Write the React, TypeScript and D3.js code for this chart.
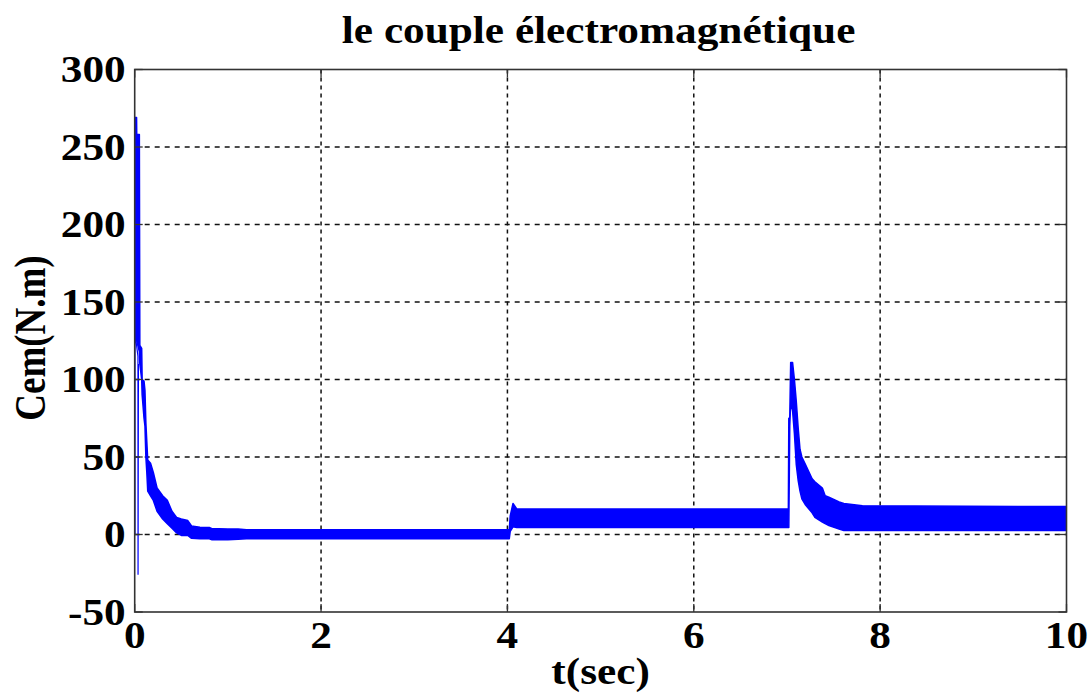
import React from "react";
import * as d3 from "d3";

const title = "le couple électromagnétique";
const xLabel = "t(sec)";
const yLabel = "Cem(N.m)";
const xTicks = [0, 2, 4, 6, 8, 10];
const yTicks = [-50, 0, 50, 100, 150, 200, 250, 300];

// envelope of the fast-oscillating torque (time, upper, lower)
const time = [0.005, 0.02, 0.022, 0.05, 0.055, 0.075, 0.08, 0.1, 0.11, 0.12,
  0.13, 0.14, 0.17, 0.2, 0.24, 0.3, 0.35, 0.4, 0.45, 0.5,
  0.57, 0.61, 0.7, 0.8, 0.83, 0.9, 1.0, 1.11, 1.2, 4.02,
  4.03, 4.06, 4.1, 7.015, 7.02, 7.03, 7.04, 7.06, 7.08, 7.1,
  7.12, 7.14, 7.16, 7.2, 7.27, 7.3, 7.38, 7.41, 7.45, 7.56,
  7.61, 7.81, 10];
const upper = [269, 269, 258, 258, 122, 120, 100, 99, 93, 72,
  60, 48, 46, 40, 30, 25, 22, 15, 11, 10,
  9, 5.5, 4.7, 4.5, 3.7, 3.7, 3.5, 3.5, 3, 3,
  12, 20, 16.5, 16.5, 75, 75, 111, 111, 100, 86,
  69, 55, 50, 45, 36, 34, 30, 25, 24, 21,
  20, 18.5, 18];
const lower = [130, 125, 125, 118, 110, 100, 90, 75, 70, 50,
  40, 28, 25, 22, 15, 10, 7, 4, 1, -0.6,
  -0.6, -2.5, -2.8, -2.8, -3.4, -3.4, -3.4, -3, -2.7, -2.7,
  2, 5, 4.5, 4.5, 4.5, 70, 85, 80, 65, 45,
  35, 28, 23, 19, 14, 11, 8, 7, 5.8, 3.5,
  2.6, 2.6, 2.6];

// thin transient excursions at start-up
const spikeTime = [0.003, 0.003, 0.035, 0.036, 0.04];
const spikeValue = [0, 130, 115, -26, 110];

const W = 1092, H = 697;
const left = 134.7, right = 1066.5, top = 69.5, bottom = 612;
const FONT = "'Liberation Serif', 'Times New Roman', serif";
const FS = 37;
const SX = 1.17;

function Label({ x, y, anchor, rotate = 0, children }: any) {
  return (
    <g transform={`translate(${x},${y}) scale(${SX},1) rotate(${rotate})`}>
      <text x={0} y={0} textAnchor={anchor} fontFamily={FONT} fontWeight="bold" fontSize={FS} fill="#000">{children}</text>
    </g>
  );
}

export default function App() {
  const x = d3.scaleLinear().domain([0, 10]).range([left, right]);
  const y = d3.scaleLinear().domain([-50, 300]).range([bottom, top]);

  const env = time.map((t, i) => ({ t, hi: upper[i], lo: lower[i] }));
  const area = d3.area<any>().x(d => x(d.t)).y0(d => y(d.lo)).y1(d => y(d.hi));
  const spike = spikeTime.map((t, i) => ({ t, v: spikeValue[i] }));
  const line = d3.line<any>().x(d => x(d.t)).y(d => y(d.v));

  return (
    <svg width={W} height={H} style={{ position: "absolute", left: 0, top: 0, background: "#fff" }}>
      <rect x={0} y={0} width={W} height={H} fill="#fff" />
      {/* grid */}
      {xTicks.slice(1, -1).map(t => (
        <line key={"gx" + t} x1={x(t)} x2={x(t)} y1={top} y2={bottom} stroke="#111" strokeWidth={1.5} strokeDasharray="4,4" />
      ))}
      {yTicks.slice(1, -1).map(t => (
        <line key={"gy" + t} x1={left} x2={right} y1={y(t)} y2={y(t)} stroke="#111" strokeWidth={1.5} strokeDasharray="5,5" />
      ))}
      {/* data */}
      <clipPath id="clip"><rect x={left} y={top} width={right - left} height={bottom - top} /></clipPath>
      <g clipPath="url(#clip)">
        <path d={area(env) || ""} fill="#0000ff" stroke="#0000ff" strokeWidth={1.5} strokeLinejoin="round" />
        <path d={line(spike) || ""} fill="none" stroke="#0000ff" strokeWidth={1.2} />
      </g>
      {/* box */}
      <rect x={left} y={top} width={right - left} height={bottom - top} fill="none" stroke="#333" strokeWidth={1.6} />
      {/* tick marks */}
      {xTicks.map(t => (
        <g key={"tx" + t}>
          <line x1={x(t)} x2={x(t)} y1={bottom} y2={bottom - 8} stroke="#333" strokeWidth={1.3} />
          <line x1={x(t)} x2={x(t)} y1={top} y2={top + 8} stroke="#333" strokeWidth={1.3} />
        </g>
      ))}
      {yTicks.map(t => (
        <g key={"ty" + t}>
          <line x1={left} x2={left + 8} y1={y(t)} y2={y(t)} stroke="#333" strokeWidth={1.3} />
          <line x1={right} x2={right - 8} y1={y(t)} y2={y(t)} stroke="#333" strokeWidth={1.3} />
        </g>
      ))}
      {/* tick labels */}
      {xTicks.map(t => (
        <Label key={"lx" + t} x={x(t)} y={bottom + 36} anchor="middle">{t}</Label>
      ))}
      {yTicks.map(t => (
        <Label key={"ly" + t} x={left - 9} y={y(t) + 12.5} anchor="end">{t}</Label>
      ))}
      <Label x={(left + right) / 2 - 2} y={43} anchor="middle">{title}</Label>
      <Label x={(left + right) / 2} y={684} anchor="middle">{xLabel}</Label>
      <Label x={45} y={338} anchor="middle" rotate={-90}>{yLabel}</Label>
    </svg>
  );
}
